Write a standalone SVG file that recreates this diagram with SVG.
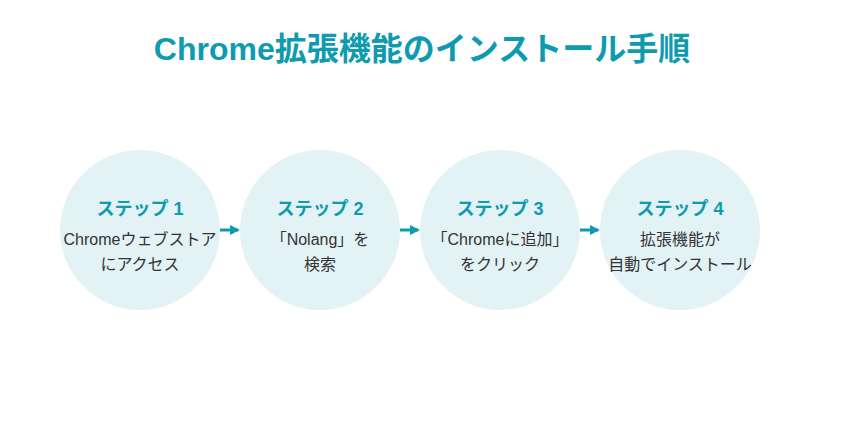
<svg xmlns="http://www.w3.org/2000/svg" width="844" height="422" viewBox="0 0 844 422">
<defs>
<style>
.title{font-family:"Liberation Sans","Noto Sans CJK JP",sans-serif;font-size:32px;font-weight:bold;fill:#0e9bb0;text-anchor:middle}
.circ{fill:#e2f2f5}
.step{font-family:"Liberation Sans","Noto Sans CJK JP",sans-serif;font-size:18px;font-weight:bold;fill:#0e9bb0;text-anchor:middle}
.body{font-family:"Liberation Sans","Noto Sans CJK SC",sans-serif;font-size:16px;fill:#333333;text-anchor:middle}
.conn{stroke:#0e9bb0;stroke-width:3;fill:none}
</style>
<marker id="ah" markerWidth="10" markerHeight="10" refX="8" refY="5" orient="auto" markerUnits="userSpaceOnUse">
<path d="M0,0 L10,5 L0,10 Z" fill="#0e9bb0"/>
</marker>
</defs>
<rect width="844" height="422" fill="#ffffff"/>
<text class="title" x="422" y="60">Chrome拡張機能のインストール手順</text>
<g id="step1">
<circle class="circ" cx="140" cy="230" r="80"/>
<text class="step" x="140" y="215">ステップ 1</text>
<text class="body" x="140" y="245">Chromeウェブストア</text>
<text class="body" x="140" y="270">にアクセス</text>
</g>
<g id="step2">
<circle class="circ" cx="320" cy="230" r="80"/>
<text class="step" x="320" y="215">ステップ 2</text>
<text class="body" x="320" y="245">「Nolang」を</text>
<text class="body" x="320" y="270">検索</text>
</g>
<g id="step3">
<circle class="circ" cx="500" cy="230" r="80"/>
<text class="step" x="500" y="215">ステップ 3</text>
<text class="body" x="500" y="245">「Chromeに追加」</text>
<text class="body" x="500" y="270">をクリック</text>
</g>
<g id="step4">
<circle class="circ" cx="680" cy="230" r="80"/>
<text class="step" x="680" y="215">ステップ 4</text>
<text class="body" x="680" y="245">拡張機能が</text>
<text class="body" x="680" y="270">自動でインストール</text>
</g>
<g id="connectors">
<line class="conn" x1="220" y1="230" x2="238" y2="230" marker-end="url(#ah)"/>
<line class="conn" x1="400" y1="230" x2="418" y2="230" marker-end="url(#ah)"/>
<line class="conn" x1="580" y1="230" x2="598" y2="230" marker-end="url(#ah)"/>
</g>
</svg>
